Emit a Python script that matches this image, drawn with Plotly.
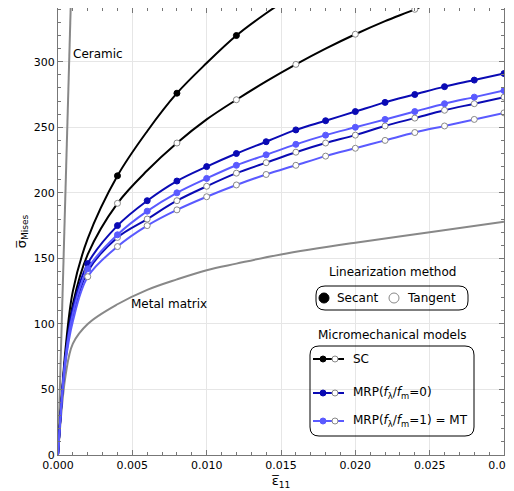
import plotly.graph_objects as go

strain = [0, 0.0005, 0.001, 0.002, 0.004, 0.006, 0.008, 0.010, 0.012, 0.014,
          0.016, 0.018, 0.020, 0.022, 0.024, 0.026, 0.028, 0.030]

sc_secant = [0, 80, 125, 165, 213, 247, 276, 299, 320, 337, 352, 366, 379, 391, 402, 412, 422, 431]
sc_tangent = [0, 75, 115, 153, 192, 217, 238, 256, 271, 285, 298, 310, 321, 331, 340, 350, 358, 366]
mrp0_secant = [0, 75, 112, 146, 175, 194, 209, 220, 230, 239, 248, 255, 262, 269, 275, 281, 286, 291]
mrp0_tangent = [0, 72, 106, 140, 166, 180, 194, 205, 215, 223, 231, 238, 244, 251, 257, 263, 268, 273]
mt_secant = [0, 74, 108, 142, 168, 186, 200, 211, 221, 229, 237, 244, 250, 256, 262, 268, 273, 278]
mt_tangent = [0, 70, 102, 136, 159, 175, 187, 197, 206, 214, 221, 228, 234, 240, 246, 251, 256, 261]

matrix_strain = [0, 0.0005, 0.001, 0.002, 0.004, 0.006, 0.008, 0.010, 0.012, 0.015, 0.020, 0.025, 0.030]
matrix_stress = [0, 60, 85, 100, 115, 126, 134, 141, 146, 153, 162, 170, 178]
ceramic_strain = [0, 0.001]
ceramic_stress = [0, 400]

BLACK = "black"
DARK = "#0a0ab4"
LIGHT = "#5a5aff"
GRAY = "#888888"

fig = go.Figure()
fig.add_trace(go.Scatter(x=ceramic_strain, y=ceramic_stress, mode="lines",
                         line=dict(color=GRAY, width=2)))
fig.add_trace(go.Scatter(x=matrix_strain, y=matrix_stress, mode="lines",
                         line=dict(color=GRAY, width=2, shape="spline", smoothing=1.0)))

curves = [
    (sc_secant, BLACK, True, 4),
    (sc_tangent, BLACK, False, 4),
    (mrp0_secant, DARK, True, 2),
    (mrp0_tangent, DARK, False, 2),
    (mt_secant, LIGHT, True, 2),
    (mt_tangent, LIGHT, False, 2),
]
for ys, col, filled, step in curves:
    fig.add_trace(go.Scatter(x=strain, y=ys, mode="lines",
                             line=dict(color=col, width=2, shape="spline")))
    keep = [i for i, x in enumerate(strain) if x >= 0.002 and round(x * 1000) % step == 0]
    fig.add_trace(go.Scatter(
        x=[strain[i] for i in keep], y=[ys[i] for i in keep], mode="markers",
        marker=dict(size=6, color=col if filled else "white", symbol="circle",
                    line=dict(color=col if filled else "#888", width=1))))

def px(x):
    return (x - 50) / 446

def py(y):
    return (447 - y) / 447

def rrect(x0, y0, x1, y1, r=9):
    a, b, c, d = px(x0), py(y1), px(x1), py(y0)
    rx, ry = r / 446, r / 447
    return dict(type="path", xref="paper", yref="paper", line=dict(color="black", width=1),
                path=(f"M{a+rx},{b} L{c-rx},{b} Q{c},{b} {c},{b+ry} L{c},{d-ry} Q{c},{d} {c-rx},{d} "
                      f"L{a+rx},{d} Q{a},{d} {a},{d-ry} L{a},{b+ry} Q{a},{b} {a+rx},{b} Z"))

def circ(cx, cy, col, filled, r=4):
    return dict(type="circle", xref="paper", yref="paper",
                x0=px(cx - r), x1=px(cx + r), y0=py(cy + r), y1=py(cy - r),
                fillcolor=col if filled else "white", line=dict(color=col if filled else "#888", width=1))

shapes = [rrect(308, 278, 460, 302), rrect(302, 338, 466, 428)]
shapes += [circ(316, 290, "black", True, 5), circ(386, 290, "#666", False, 5)]
for yy, col in [(351, BLACK), (385, DARK), (413, LIGHT)]:
    shapes.append(dict(type="line", xref="paper", yref="paper", x0=px(305), x1=px(336),
                       y0=py(yy), y1=py(yy), line=dict(color=col, width=2)))
    shapes.append(circ(315, yy, col, True, 3))
    shapes.append(circ(327, yy, col, False, 3))

ann = [
    ("Ceramic", 63, 46, "left"),
    ("Metal matrix", 121, 296, "left"),
    ("Linearization method", 384, 264, "center"),
    ("Secant", 327, 290, "left"),
    ("Tangent", 397, 290, "left"),
    ("Micromechanical models", 384, 327, "center"),
    ("SC", 343, 351, "left"),
    ("MRP(<i>f</i><sub>λ</sub>/<i>f</i><sub>m</sub>=0)", 343, 385, "left"),
    ("MRP(<i>f</i><sub>λ</sub>/<i>f</i><sub>m</sub>=1) = MT", 343, 413, "left"),
]
annotations = [dict(text=t, x=px(x), y=py(y), xref="paper", yref="paper", showarrow=False,
                    xanchor=a, yanchor="middle", font=dict(size=12, color="black"))
               for t, x, y, a in ann]

axis = dict(showline=True, linecolor="#777", mirror="ticks", ticks="inside", ticklen=5,
            tickcolor="#777", gridcolor="#e6e6e6", zeroline=False, automargin=False,
            minor=dict(ticks="inside", ticklen=3, tickcolor="#777", showgrid=False))
fig.update_layout(
    width=514, height=491, showlegend=False, plot_bgcolor="white", paper_bgcolor="white",
    margin=dict(l=50, r=18, t=0, b=44),
    font=dict(family="DejaVu Sans", size=11, color="black"),
    xaxis=dict(axis, range=[0, 0.030], dtick=0.005, tickformat=".3f",
               title=dict(text="ε̅<sub>11</sub>", standoff=4, font=dict(size=13)),
               minor=dict(axis["minor"], dtick=0.001)),
    yaxis=dict(axis, range=[0, 341], dtick=50,
               title=dict(text="σ̅<sub>Mises</sub>", standoff=4, font=dict(size=13)),
               minor=dict(axis["minor"], dtick=10)),
    shapes=shapes, annotations=annotations,
)
fig.write_html("out.html")
